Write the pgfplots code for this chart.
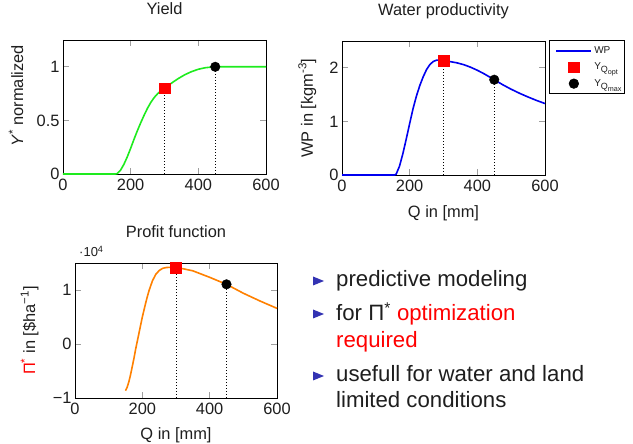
\documentclass[border=0pt]{standalone}
\usepackage{pgfplots}
\pgfplotsset{compat=1.18}
\usepackage{fontspec}
\setmainfont{Liberation Sans}
\definecolor{ygreen}{RGB}{30,235,30}
\definecolor{wpblue}{RGB}{0,0,240}
\definecolor{porange}{RGB}{255,128,0}
\definecolor{txt}{RGB}{30,30,30}
\definecolor{bulletblue}{RGB}{51,51,179}
\newcommand{\lblfont}{\fontsize{16.4}{18}\selectfont}
\newcommand{\bigfont}{\fontsize{22.2}{24}\selectfont}
\newcommand{\legsub}[1]{{\fontsize{10}{10}\selectfont Y}\raisebox{-3pt}{\fontsize{9}{9}\selectfont Q\raisebox{-1.8pt}{\fontsize{7.2}{7.2}\selectfont #1}}}

\pgfplotstableread{
Q Y
0 0
155 0
160 0.003
170 0.035
180 0.09
190 0.16
200 0.24
210 0.325
220 0.405
230 0.48
240 0.55
250 0.615
260 0.67
270 0.715
280 0.75
290 0.778
300 0.80
310 0.823
320 0.846
340 0.889
360 0.926
380 0.955
400 0.977
420 0.991
440 0.998
450 1.0
500 1.0
550 1.0
600 1.0
}\yieldtab

\pgfplotstableread{
Q WP
0 0
155 0
160 0.015
170 0.165
180 0.40
190 0.674
200 0.96
210 1.238
220 1.473
230 1.67
240 1.833
250 1.968
260 2.062
270 2.119
280 2.143
290 2.146
300 2.133
310 2.124
320 2.115
340 2.092
360 2.058
380 2.011
400 1.954
420 1.888
440 1.815
450 1.778
475 1.684
500 1.60
525 1.524
550 1.455
575 1.391
600 1.333
}\wptab

\pgfplotstableread{
Q P
150 -8650
155 -8000
160 -7000
165 -5700
170 -4200
175 -2700
180 -1000
185 500
190 2000
195 3500
200 5000
205 6300
210 7600
215 8800
220 9900
230 11700
240 12900
250 13600
260 14000
270 14150
280 14200
290 14180
300 14120
320 13950
350 13550
400 12350
450 11050
500 9400
550 7950
600 6600
}\proftab

\pgfplotsset{
  myax/.style={
    scale only axis, anchor=south west,
    xmin=0, xmax=600, xtick={0,200,400,600},
    tick pos=both, tick align=inside,
    major tick length=6pt,
    major tick style={draw=gray!75, line width=0.6pt},
    axis line style={line width=0.8pt},
    tick label style={font=\lblfont, text=txt},
    xticklabel style={yshift=-2pt},
    label style={font=\lblfont, text=txt},
    title style={font=\lblfont, text=txt, at={(axis description cs:0.5,1)}, anchor=base, yshift=19pt},
    /pgf/number format/assume math mode=true,
    clip=false,
  },
  dotl/.style={forget plot, black, dash pattern=on 1pt off 2pt, line width=0.8pt},
  sqm/.style={only marks, mark=square*, mark size=5.4pt, mark options={draw=red, fill=red}},
  dotm/.style={only marks, mark=*, mark size=4.8pt, mark options={draw=black, fill=black}},
  lineleg/.style={legend image code/.code={\path[draw=none,fill=none] (0pt,-6pt) rectangle (41pt,6pt); \draw[wpblue, line width=1.8pt] (6pt,0pt) -- (41pt,0pt);}},
  sqleg/.style={legend image code/.code={\path[draw=none,fill=none] (0pt,-6pt) rectangle (41pt,6pt); \fill[red] (18.3pt,-5.3pt) rectangle (28.7pt,5.3pt);}},
  dotleg/.style={legend image code/.code={\path[draw=none,fill=none] (0pt,-6pt) rectangle (41pt,6pt); \fill[black] (23.5pt,0pt) circle (4.8pt);}},
}

\begin{document}
\begin{tikzpicture}
\path[use as bounding box] (0pt,0pt) rectangle (633pt,444pt);

% Yield
\begin{axis}[myax, at={(63pt,270pt)}, width=203pt, height=134pt,
  ymin=0, ymax=1.25, ytick={0,0.5,1},
  title={Yield},
  ylabel={\textit{Y}\textsuperscript{*} normalized},
  ylabel style={at={(axis description cs:-0.197,0.582)}, anchor=base, inner sep=0pt},
]
\addplot[dotl] coordinates {(300,0) (300,0.8)};
\addplot[dotl] coordinates {(450,0) (450,1)};
\addplot[ygreen, line width=1.6pt] table[x=Q, y=Y] {\yieldtab};
\addplot[sqm] coordinates {(300,0.8)};
\addplot[dotm] coordinates {(450,1)};
\end{axis}

% Water productivity
\begin{axis}[myax, at={(342pt,269pt)}, width=203pt, height=134pt,
  ymin=0, ymax=2.5, ytick={0,1,2},
  title={Water productivity},
  ylabel={WP in [kgm\textsuperscript{-3}]},
  ylabel style={at={(axis description cs:-0.144,0.5)}, anchor=base, inner sep=0pt},
  xlabel={Q in [mm]},
  xlabel style={at={(axis description cs:0.5,-0.317)}, anchor=base, inner sep=0pt},
  legend style={at={(axis description cs:1.02,1.005)}, anchor=north west,
    draw=black, line width=0.6pt, font=\fontsize{10}{10}\selectfont,
    inner xsep=1pt, inner ysep=4pt, row sep=4.5pt, text=txt,
    nodes={inner xsep=2pt, inner ysep=1pt}},
  legend cell align=left,
]
\addplot[dotl] coordinates {(300,0) (300,2.133)};
\addplot[dotl] coordinates {(450,0) (450,1.778)};
\addplot[wpblue, line width=1.6pt, lineleg] table[x=Q, y=WP] {\wptab};
\addlegendentry{WP}
\addplot[sqm, sqleg] coordinates {(300,2.133)};
\addlegendentry{\legsub{opt}}
\addplot[dotm, dotleg] coordinates {(450,1.778)};
\addlegendentry{\legsub{max}}
\end{axis}

% Profit function
\begin{axis}[myax, at={(75pt,46pt)}, width=202pt, height=135pt,
  ymin=-10000, ymax=15000, ytick={-10000,0,10000}, yticklabels={−1,0,1},
  scaled y ticks=false,
  title={Profit function},
  ylabel={{\color{red}Π\textsuperscript{*}} in [\$ha\textsuperscript{−1}]},
  ylabel style={at={(axis description cs:-0.198,0.5)}, anchor=base, inner sep=0pt},
  xlabel={Q in [mm]},
  xlabel style={at={(axis description cs:0.5,-0.311)}, anchor=base, inner sep=0pt},
]
\addplot[dotl] coordinates {(300,-10000) (300,14120)};
\addplot[dotl] coordinates {(450,-10000) (450,11050)};
\addplot[porange, line width=1.6pt] table[x=Q, y=P] {\proftab};
\addplot[sqm] coordinates {(300,14120)};
\addplot[dotm] coordinates {(450,11050)};
\end{axis}
\node[anchor=base west, inner sep=0pt, text=txt, font=\fontsize{13}{14}\selectfont] at (79pt,187pt) {·10\textsuperscript{4}};

% Bullets
\fill[bulletblue] (313pt,158.5pt) -- (313pt,167.5pt) -- (324pt,163pt) -- cycle;
\fill[bulletblue] (313pt,125.5pt) -- (313pt,134.5pt) -- (324pt,130pt) -- cycle;
\fill[bulletblue] (313pt,63.5pt) -- (313pt,72.5pt) -- (324pt,68pt) -- cycle;
\node[anchor=base west, inner sep=0pt, text=txt, font=\bigfont] at (336pt,157.3pt) {predictive modeling};
\node[anchor=base west, inner sep=0pt, text=txt, font=\bigfont] at (336pt,123.3pt) {for Π\textsuperscript{*} {\color{red}optimization}};
\node[anchor=base west, inner sep=0pt, text=red, font=\bigfont] at (336pt,96pt) {required};
\node[anchor=base west, inner sep=0pt, text=txt, font=\bigfont] at (336pt,62.3pt) {usefull for water and land};
\node[anchor=base west, inner sep=0pt, text=txt, font=\bigfont] at (336pt,36pt) {limited conditions};
\end{tikzpicture}
\end{document}
